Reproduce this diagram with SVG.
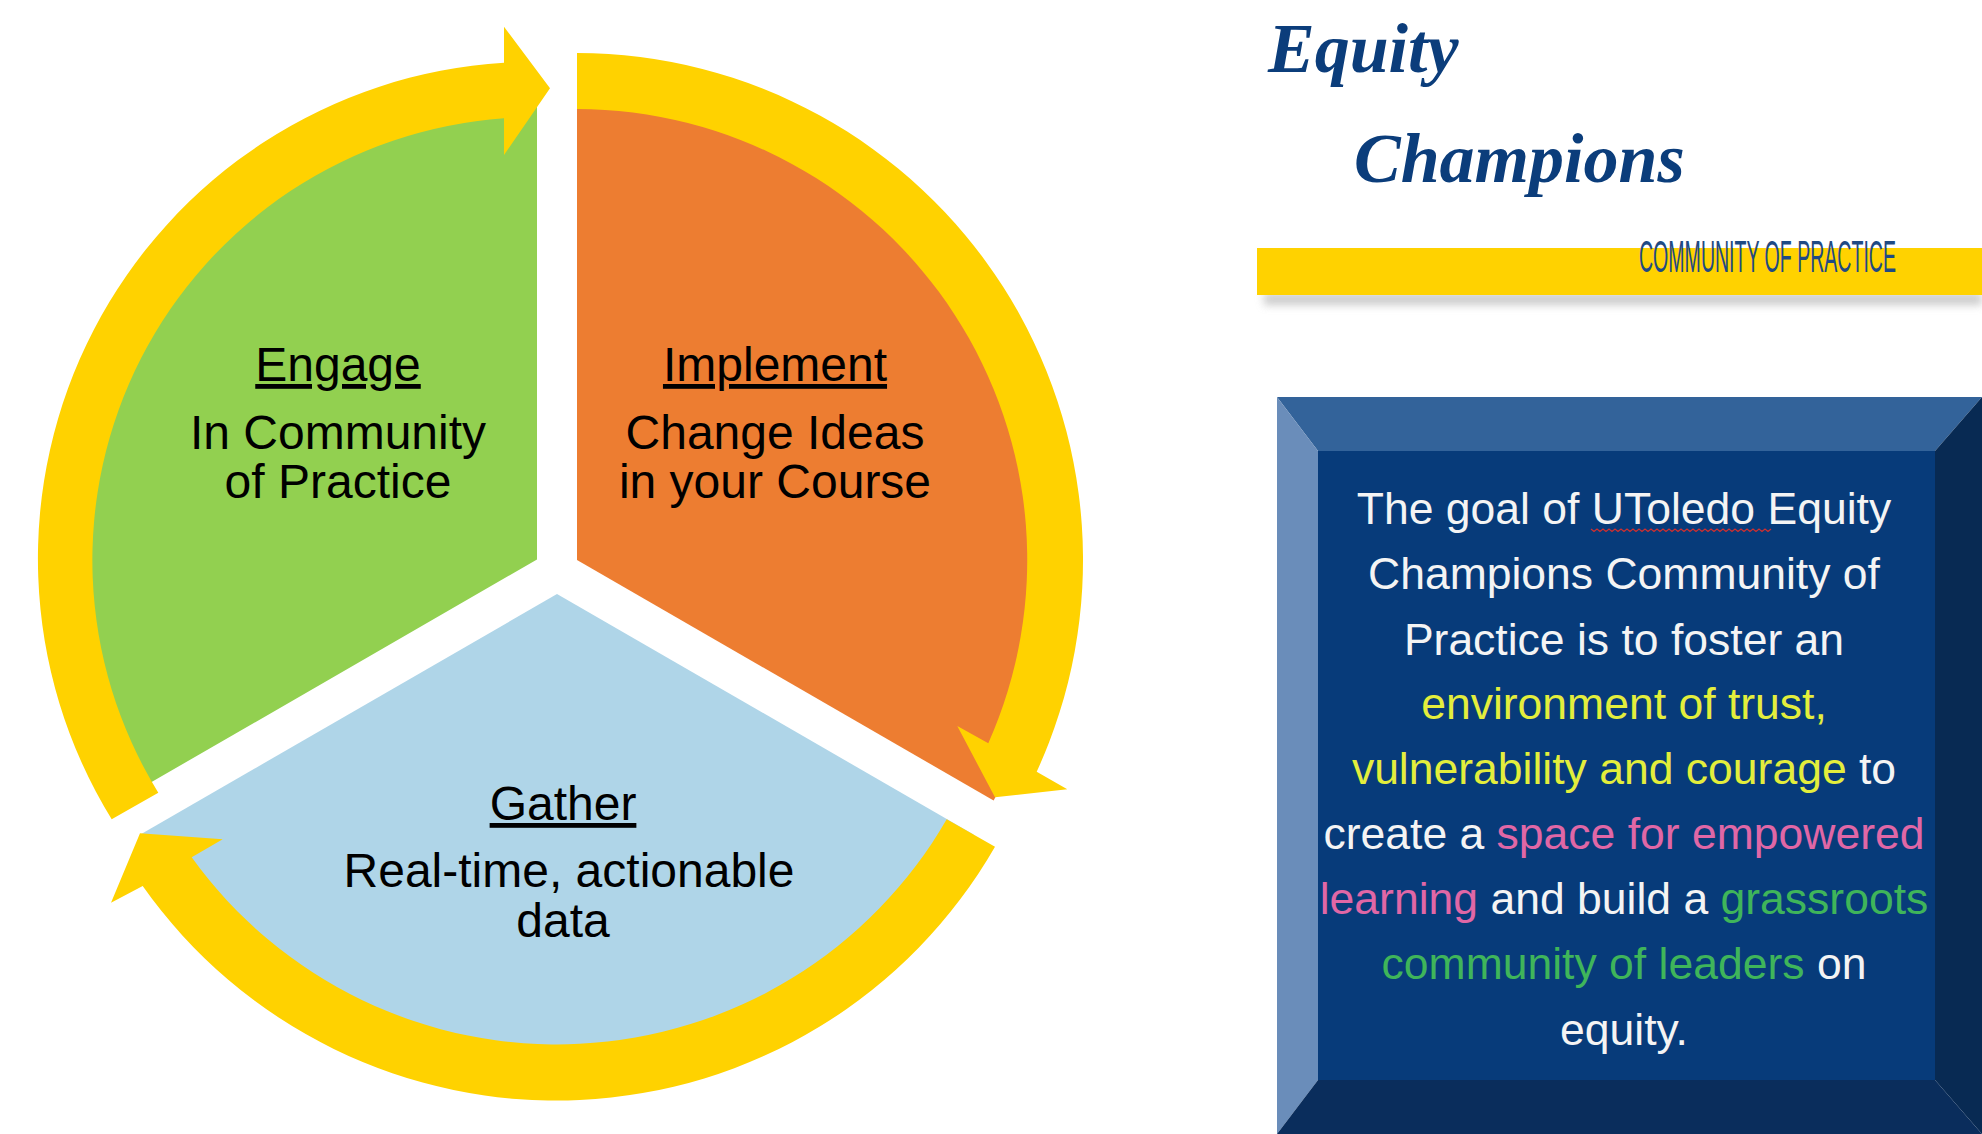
<svg xmlns="http://www.w3.org/2000/svg" width="1982" height="1134" viewBox="0 0 1982 1134">
  <defs>
    <style>
      .pie { font-family: "Liberation Sans", Arial, sans-serif; font-size: 48px; fill: #000; text-anchor: middle; }
      .head { text-decoration: underline; }
      .arrow { fill: #FFD200; }
      .box { font-family: "Liberation Sans", Arial, sans-serif; font-size: 44.5px; fill: #F4F4F4; text-anchor: middle; }
      .yl { fill: #E3EE3C; }
      .pk { fill: #E067A6; }
      .gr { fill: #3FB55A; }
      .title { font-family: "Liberation Serif", "DejaVu Serif", serif; font-style: italic; font-weight: bold; fill: #0B3D7B; font-size: 70px; }
    </style>
    <filter id="blur" x="-5%" y="-100%" width="110%" height="300%">
      <feGaussianBlur stdDeviation="4"/>
    </filter>
  </defs>
  <rect x="0" y="0" width="1982" height="1134" fill="#FFFFFF"/>

  <!-- Pie sectors -->
  <g id="engage">
    <path d="M537,559.5 L138.6,789.5 A460,460 0 0,1 537,99.5 Z" fill="#92D050"/>
    <text class="pie head" x="338" y="381">Engage</text>
    <text class="pie" x="338" y="449">In Community</text>
    <text class="pie" x="338" y="498">of Practice</text>
  </g>
  <g id="implement">
    <path d="M577,560 L577,79 A481,481 0 0,1 993.6,800.5 Z" fill="#ED7D31"/>
    <text class="pie head" x="775" y="381">Implement</text>
    <text class="pie" x="775" y="449">Change Ideas</text>
    <text class="pie" x="775" y="498">in your Course</text>
  </g>
  <g id="gather">
    <path d="M557,594 L973.6,834.5 A481,481 0 0,1 140.4,834.5 Z" fill="#AFD5E8"/>
    <text class="pie head" x="563" y="820">Gather</text>
    <text class="pie" x="569" y="887">Real-time, actionable</text>
    <text class="pie" x="563" y="937">data</text>
  </g>

  <!-- Circular arrows -->
  <g id="connectors">
    <path class="arrow" d="M111.7,819.3 A497,497 0 0,1 504,62.7 L504,26.7 L550,88.3 L504,155 L504,118.3 A443,443 0 0,0 158.3,792.7 Z"/>
    <path class="arrow" d="M577,53 A507,507 0 0,1 1036.7,771.7 L1067.3,789.3 L995,797.3 L957.3,726 L988.3,743.3 A451,451 0 0,0 577,109 Z"/>
    <path class="arrow" d="M995,846.7 A506,506 0 0,1 142.7,886 L111,902.7 L140,833.3 L222.7,839.3 L191.7,857.3 A450,450 0 0,0 946.7,819.3 Z"/>
  </g>

  <!-- Header -->
  <g id="header">
    <text class="title" x="1268" y="72">Equity</text>
    <text class="title" x="1354" y="182">Champions</text>
    <rect x="1264" y="293" width="718" height="12" fill="#B5B5B5" opacity="0.7" filter="url(#blur)"/>
    <rect x="1257" y="248" width="725" height="47" fill="#FFD200"/>
    <text x="1639" y="272" font-family="'Liberation Sans Narrow', 'Liberation Sans', sans-serif" font-size="45" fill="#1F4A84" textLength="257" lengthAdjust="spacingAndGlyphs">COMMUNITY OF PRACTICE</text>
  </g>

  <!-- Goal box -->
  <g id="goal-box">
    <polygon points="1277,397 1982,397 1935,451 1318,451" fill="#33639A"/>
    <polygon points="1277,397 1318,451 1318,1080 1277,1134" fill="#6A8DBA"/>
    <polygon points="1982,397 1982,1134 1935,1080 1935,451" fill="#082A53"/>
    <polygon points="1318,1080 1935,1080 1982,1134 1277,1134" fill="#0A2D5C"/>
    <rect x="1318" y="451" width="617" height="629" fill="#073B7A"/>
    <text class="box" x="1624" y="524">The goal of UToledo Equity</text>
    <path d="M1591,529 l3,2.5 l3,-2.5 l3,2.5 l3,-2.5 l3,2.5 l3,-2.5 l3,2.5 l3,-2.5 l3,2.5 l3,-2.5 l3,2.5 l3,-2.5 l3,2.5 l3,-2.5 l3,2.5 l3,-2.5 l3,2.5 l3,-2.5 l3,2.5 l3,-2.5 l3,2.5 l3,-2.5 l3,2.5 l3,-2.5 l3,2.5 l3,-2.5 l3,2.5 l3,-2.5 l3,2.5 l3,-2.5 l3,2.5 l3,-2.5 l3,2.5 l3,-2.5 l3,2.5 l3,-2.5 l3,2.5 l3,-2.5 l3,2.5 l3,-2.5 l3,2.5 l3,-2.5 l3,2.5 l3,-2.5 l3,2.5 l3,-2.5 l3,2.5 l3,-2.5 l3,2.5 l3,-2.5 l3,2.5 l3,-2.5 l3,2.5 l3,-2.5 l3,2.5 l3,-2.5 l3,2.5 l3,-2.5 l3,2.5 l3,-2.5" fill="none" stroke="#D03030" stroke-width="1.3"/>
    <text class="box" x="1624" y="589">Champions Community of</text>
    <text class="box" x="1624" y="655">Practice is to foster an</text>
    <text class="box yl" x="1624" y="719">environment of trust,</text>
    <text class="box" x="1624" y="784"><tspan class="yl">vulnerability and courage</tspan> to</text>
    <text class="box" x="1624" y="849">create a <tspan class="pk">space for empowered</tspan></text>
    <text class="box" x="1624" y="914"><tspan class="pk">learning</tspan> and build a <tspan class="gr">grassroots</tspan></text>
    <text class="box" x="1624" y="979"><tspan class="gr">community of leaders</tspan> on</text>
    <text class="box" x="1624" y="1045">equity.</text>
  </g>
</svg>
